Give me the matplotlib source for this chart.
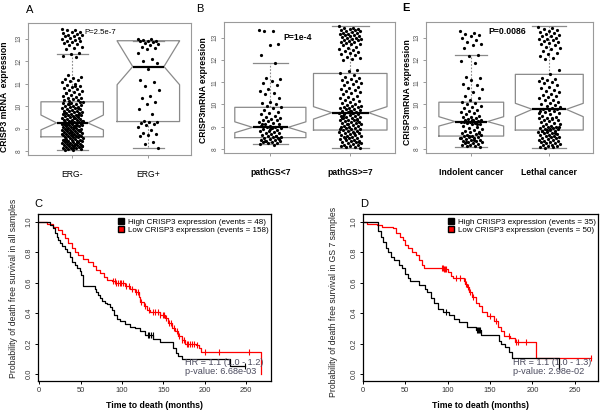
import numpy as np
import matplotlib
matplotlib.use('Agg')
import matplotlib.pyplot as plt
from matplotlib.patches import Patch

plt.rcParams['font.family'] = ['Liberation Sans', 'DejaVu Sans']

# ---------------- data: box plots ----------------
labels_A = ["ERG-", "ERG+"]
labels_B = ["pathGS<7", "pathGS>=7"]
labels_E = ["Indolent cancer", "Lethal cancer"]

erg_neg = [13.45, 13.4, 13.38, 13.32, 13.3, 13.25, 13.22, 13.18, 13.15, 13.12, 13.1, 13.05, 13.02, 12.98,
           12.95, 12.9, 12.88, 12.85, 12.8, 12.75, 12.7, 12.65, 12.6, 12.55, 12.35, 12.3, 12.25, 12.2,
           11.4, 11.3, 11.25, 11.2, 11.15, 11.1, 11.05, 11.0, 10.95, 10.9, 10.85, 10.8, 10.78, 10.72, 10.68,
           10.62, 10.58, 10.55, 10.5, 10.45, 10.42, 10.38, 10.35, 10.3, 10.28, 10.25, 10.22, 10.2, 10.9, 10.6,
           10.18, 10.15, 10.12, 10.1, 10.08, 10.05, 10.02, 10.0, 9.98, 9.95, 9.93, 9.9, 9.88, 9.85, 9.83, 9.8,
           9.78, 9.76, 9.74, 9.72, 9.7, 9.68, 9.66, 9.64, 9.62, 9.6, 9.58, 9.56, 9.54, 9.52, 9.5, 9.48, 9.46,
           9.44, 9.42, 9.4, 9.38, 9.36, 9.35, 9.33, 9.31, 9.3, 9.28, 9.27, 9.25, 9.24, 9.22, 9.21, 9.2, 9.18,
           9.17, 9.15, 9.14, 9.12, 9.1, 9.09, 9.07, 9.05, 9.04, 9.02, 9.0, 8.98, 8.97, 8.95, 8.93, 8.92, 8.9,
           8.88, 8.87, 8.85, 8.83, 8.82, 8.8, 8.78, 8.77, 8.75, 8.73, 8.72, 8.7, 8.68, 8.67, 8.65, 8.63, 8.62,
           8.6, 8.58, 8.56, 8.55, 8.53, 8.51, 8.5, 8.48, 8.46, 8.45, 8.43, 8.41, 8.4, 8.38, 8.36, 8.35, 8.33,
           8.31, 8.3, 8.28, 8.26, 8.25, 8.23, 8.21, 8.2, 8.18, 8.16, 8.15, 8.13, 8.11, 8.1, 8.08, 8.06, 8.05,
           9.6, 9.3, 9.2, 9.1, 9.0, 8.9, 8.7, 8.5, 8.4, 8.3, 8.2, 9.45, 9.15, 8.95, 8.85, 8.75, 8.65, 8.45,
           8.25, 8.12, 9.7, 9.9, 10.1, 9.35, 9.05]
erg_pos = [13.0, 12.98, 12.95, 12.92, 12.9, 12.88, 12.85, 12.8, 12.75, 12.7, 12.65, 12.6, 12.55, 12.35,
           12.1, 12.0, 11.9, 11.65, 11.15, 11.05, 10.9, 10.7, 10.45, 10.35, 10.2, 10.1, 9.85, 9.65, 9.35,
           9.3, 9.28, 9.25, 9.2, 9.15, 9.05, 8.95, 8.8, 8.75, 8.7, 8.65, 8.4, 8.3, 8.15]
path_lt7 = [13.35, 13.3, 13.28, 12.72, 12.65, 12.2, 11.85, 11.2, 11.15, 11.05, 10.95, 10.85, 10.7, 10.62,
            10.5, 10.45, 10.3, 10.12, 10.05, 10.0, 9.95, 9.9, 9.82, 9.75, 9.68, 9.6, 9.55, 9.5, 9.45, 9.4,
            9.35, 9.3, 9.28, 9.25, 9.2, 9.15, 9.12, 9.1, 9.05, 9.02, 9.0, 8.98, 8.95, 8.92, 8.9, 8.85, 8.82,
            8.8, 8.75, 8.72, 8.7, 8.66, 8.62, 8.6, 8.58, 8.55, 8.52, 8.5, 8.48, 8.45, 8.42, 8.4, 8.38, 8.35,
            8.32, 8.3, 8.28, 8.25, 8.22, 8.2, 8.35, 8.45, 8.9, 9.1, 8.6]
path_ge7 = [13.5, 13.45, 13.42, 13.4, 13.38, 13.35, 13.32, 13.3, 13.28, 13.25, 13.22, 13.2, 13.18, 13.15,
            13.12, 13.1, 13.08, 13.05, 13.02, 13.0, 12.98, 12.95, 12.92, 12.9, 12.88, 12.85, 12.82, 12.8,
            12.75, 12.72, 12.7, 12.65, 12.6, 12.55, 12.5, 12.45, 12.4, 12.35, 12.3, 12.25, 12.2, 12.15,
            12.1, 12.05, 12.0,
            11.55, 11.48, 11.4, 11.32, 11.25, 11.2, 11.15, 11.1, 11.05, 11.0, 10.95, 10.9, 10.85, 10.8,
            10.75, 10.7, 10.65, 10.6, 10.55, 10.5, 10.45, 10.4, 10.35, 10.3, 10.25, 10.2, 10.15, 10.1,
            10.05, 10.0,
            9.98, 9.95, 9.92, 9.9, 9.87, 9.85, 9.82, 9.8, 9.78, 9.75, 9.72, 9.7, 9.68, 9.65, 9.63, 9.6,
            9.58, 9.55, 9.52, 9.5, 9.48, 9.45, 9.42, 9.4, 9.38, 9.35, 9.32, 9.3, 9.28, 9.25, 9.22, 9.2,
            9.18, 9.15, 9.12, 9.1, 9.08, 9.05, 9.02, 9.0, 8.98, 8.95, 8.92, 8.9, 8.88, 8.85, 8.82, 8.8,
            8.78, 8.75, 8.72, 8.7, 8.68, 8.65, 8.62, 8.6, 8.58, 8.55, 8.52, 8.5, 8.48, 8.45, 8.42, 8.4,
            8.38, 8.35, 8.32, 8.3, 8.28, 8.25, 8.22, 8.2, 8.18, 8.15, 8.12, 8.1, 8.08, 8.05,
            9.62, 9.5, 9.3, 9.1, 8.9, 8.7, 8.5, 8.3, 9.7, 9.4]
indolent = [13.3, 13.22, 13.15, 13.1, 13.05, 12.98, 12.9, 12.8, 12.72, 12.65, 12.55, 12.2, 12.18, 11.95,
            11.85, 11.25, 11.2, 11.1, 10.9, 10.85, 10.75, 10.7, 10.55, 10.4, 10.3, 10.2, 10.1, 10.05, 10.0,
            9.95, 9.9, 9.82, 9.75, 9.7, 9.65, 9.6, 9.55, 9.5, 9.45, 9.42, 9.38, 9.35, 9.32, 9.3, 9.28,
            9.25, 9.22, 9.2, 9.18, 9.15, 9.12, 9.1, 9.05, 9.0, 8.95, 8.9, 8.85, 8.8, 8.78, 8.75, 8.7,
            8.68, 8.65, 8.62, 8.6, 8.58, 8.55, 8.52, 8.5, 8.48, 8.45, 8.42, 8.4, 8.38, 8.35, 8.32, 8.3,
            8.28, 8.25, 8.22, 8.2, 8.18, 8.15, 8.12, 8.1, 9.3, 9.2, 9.1, 8.6, 8.5, 8.4, 8.3, 8.7]
lethal = [13.48, 13.42, 13.38, 13.35, 13.3, 13.25, 13.2, 13.18, 13.12, 13.08, 13.05, 13.0, 12.95, 12.92,
          12.88, 12.85, 12.8, 12.75, 12.7, 12.65, 12.6, 12.55, 12.5, 12.4, 12.32, 12.25, 12.18, 12.1, 12.05,
          11.55, 11.35, 11.2, 11.15, 11.1, 11.05, 11.0, 10.95, 10.85, 10.8, 10.72, 10.65, 10.6, 10.55,
          10.48, 10.42, 10.38, 10.32, 10.28, 10.22, 10.18, 10.12, 10.08, 10.02,
          9.98, 9.95, 9.9, 9.85, 9.8, 9.78, 9.75, 9.72, 9.7, 9.65, 9.6, 9.55, 9.5, 9.45, 9.4, 9.38,
          9.35, 9.3, 9.28, 9.25, 9.2, 9.15, 9.12, 9.1, 9.05, 9.02, 9.0, 8.98, 8.95, 8.92, 8.9, 8.88,
          8.85, 8.82, 8.8, 8.78, 8.75, 8.72, 8.7, 8.68, 8.65, 8.62, 8.6, 8.58, 8.55, 8.52, 8.5, 8.48,
          8.45, 8.42, 8.4, 8.38, 8.35, 8.32, 8.3, 8.28, 8.25, 8.22, 8.2, 8.18, 8.15, 8.12, 8.1, 8.08,
          8.05, 9.0, 8.9, 8.8, 8.7, 8.85, 9.6, 9.4]

# box statistics: [group1, group2]
A_q1 = [8.63, 9.31]; A_med = [9.25, 11.76]; A_q3 = [10.19, 12.91]
A_lo = [8.04, 8.15]; A_hi = [12.32, 12.91]; A_cilo = [8.94, 10.95]; A_cihi = [9.60, 12.90]
B_q1 = [8.51, 8.85]; B_med = [8.97, 9.63]; B_q3 = [9.87, 11.39]
B_lo = [8.21, 8.06]; B_hi = [11.87, 13.50]; B_cilo = [8.73, 9.34]; B_cihi = [9.22, 9.90]
E_q1 = [8.58, 8.85]; E_med = [9.23, 9.78]; E_q3 = [10.10, 11.35]
E_lo = [8.10, 8.06]; E_hi = [12.22, 13.50]; E_cilo = [9.03, 9.45]; E_cihi = [9.45, 10.05]

# ---------------- data: Kaplan-Meier ----------------
C_high_t = [0, 13, 17, 19, 21, 23, 25, 28, 31, 34, 37, 40, 43, 46, 49, 51, 53, 67, 69, 71, 73, 76, 79, 82,
            85, 88, 90, 94, 98, 104, 110, 116, 122, 128, 138, 146, 162, 165, 168, 172, 231, 249]
C_high_s = [1.0, .98, .96, .93, .90, .88, .86, .84, .82, .80, .77, .74, .72, .70, .68, .65, .58, .56, .54,
            .52, .50, .48, .47, .46, .44, .42, .39, .36, .35, .33, .31, .30, .28, .26, .23, .21, .17, .14,
            .12, .10, .05, .05]
C_high_cens = [131, 133, 135, 137, 249]
C_low_t = [0, 9, 17, 23, 27, 31, 35, 39, 43, 47, 53, 59, 65, 69, 73, 78, 82, 88, 92, 104, 110, 116, 120,
           122, 126, 130, 134, 146, 152, 156, 160, 164, 168, 172, 176, 189, 193, 196, 268]
C_low_s = [1.0, .99, .97, .95, .92, .895, .86, .83, .80, .785, .76, .74, .714, .686, .664, .64, .62, .61,
           .60, .576, .56, .54, .51, .477, .45, .42, .41, .39, .367, .334, .30, .28, .253, .224, .20, .19,
           .17, .145, 0.0]
C_low_cens = [89, 91, 93, 95, 97, 99, 101, 105, 108, 112, 117, 119, 123, 128, 133, 137, 140, 143, 146,
              149, 151, 153, 157, 159, 163, 166, 169, 173, 175, 178, 180, 182, 184, 187, 190, 200, 217, 254]
D_high_t = [0, 18, 21, 24, 27, 30, 33, 37, 42, 46, 50, 53, 55, 66, 73, 76, 80, 84, 89, 95, 101, 107, 113,
            123, 133, 139, 161, 163, 168, 172, 176, 231]
D_high_s = [1.0, .94, .90, .87, .83, .80, .77, .75, .72, .70, .66, .63, .61, .585, .56, .54, .50, .465,
            .43, .41, .39, .36, .34, .31, .29, .257, .22, .20, .18, .147, .107, .03]
D_high_cens = [98, 135, 136, 137, 138]
D_low_t = [0, 5, 17, 23, 35, 39, 44, 47, 50, 53, 58, 62, 66, 70, 72, 96, 100, 104, 106, 119, 121, 123,
           125, 129, 133, 137, 141, 147, 155, 159, 163, 167, 174, 180, 204, 269]
D_low_s = [1.0, .99, .98, .97, .96, .93, .90, .88, .85, .83, .80, .78, .75, .72, .70, .69, .67, .645,
           .63, .61, .59, .57, .54, .51, .47, .445, .41, .38, .35, .31, .28, .25, .237, .208, .105, .105]
D_low_cens = [93, 95, 96, 97, 98, 110, 114, 120, 122, 124, 126, 130, 150, 157, 172, 181, 183, 193, 269]

C_legend = ["High CRISP3 expression (events = 48)", "Low CRISP3 expression (events = 158)"]
D_legend = ["High CRISP3 expression (events = 35)", "Low CRISP3 expression (events = 50)"]
C_stats = ["HR = 1.1 (1.0 - 1.2)", "p-value: 6.68e-03"]
D_stats = ["HR = 1.1 (1.0 - 1.3)", "p-value: 2.98e-02"]

# ---------------- figure ----------------
W, H = 600, 411
fig = plt.figure(figsize=(6, 4.11), dpi=100)


def ax_px(l, t, r, b):
    return fig.add_axes([l / W, 1 - b / H, (r - l) / W, (b - t) / H])


def ftext(x, y, s, **kw):
    fig.text(x / W, 1 - y / H, s, **kw)


GRAY = '#8a8a8a'


def boxpanel(ax, groups, q1, med, q3, lo, hi, cilo, cihi, labels, bold, widths):
    stats = []
    for i in range(2):
        stats.append(dict(q1=q1[i], med=med[i], q3=q3[i], whislo=lo[i], whishi=hi[i],
                          cilo=cilo[i], cihi=cihi[i], fliers=[]))
    ax.bxp(stats, positions=[1, 2], widths=widths, shownotches=True, showfliers=False,
           boxprops=dict(color=GRAY, lw=0.9),
           medianprops=dict(color='black', lw=1.6),
           whiskerprops=dict(color=GRAY, lw=0.8, linestyle=(0, (1.5, 1.5))),
           capprops=dict(color=GRAY, lw=0.9), manage_ticks=False)
    spread = 0.14
    for i, vals in enumerate(groups):
        v = np.asarray(vals)
        off = ((np.arange(len(v)) * 0.6180339887) % 1 - 0.5) * 2 * spread
        ax.plot(i + 1 + off, v, 'o', color='black', ms=2.3, mew=0, zorder=5)
    ax.set_xlim(0.42, 2.56)
    ax.set_ylim(7.82, 13.7)
    ax.set_yticks([8, 9, 10, 11, 12, 13])
    ax.set_yticklabels(['8', '9', '10', '11', '12', '13'], rotation=90, va='center')
    ax.set_xticks([1, 2])
    ax.set_xticklabels(labels, fontsize=6.2, fontweight='bold' if bold else 'normal')
    ax.tick_params(axis='y', labelsize=4.8, colors=GRAY, labelcolor='#555555', length=2.5, width=0.6, pad=1.5)
    ax.tick_params(axis='x', colors=GRAY, labelcolor='black', length=2.5, width=0.6, pad=8)
    for s in ax.spines.values():
        s.set_color('#9a9a9a')
        s.set_linewidth(0.8)


axA = ax_px(28, 23, 191, 155)
boxpanel(axA, [erg_neg, erg_pos], A_q1, A_med, A_q3, A_lo, A_hi, A_cilo, A_cihi, labels_A, False, [0.82, 0.82])
axB = ax_px(224, 22, 395, 153)
boxpanel(axB, [path_lt7, path_ge7], B_q1, B_med, B_q3, B_lo, B_hi, B_cilo, B_cihi, labels_B, True, [0.89, 0.92])
axE = ax_px(426, 22, 593, 153)
boxpanel(axE, [indolent, lethal], E_q1, E_med, E_q3, E_lo, E_hi, E_cilo, E_cihi, labels_E, True, [0.83, 0.87])

ftext(5, 97, "CRISP3 mRNA  expression", rotation=90, ha='center', va='center', fontsize=6.2, fontweight='bold')
ftext(203, 90, "CRISP3mRNA expression", rotation=90, ha='center', va='center', fontsize=6.2, fontweight='bold')
ftext(407, 92, "CRISP3mRNA expression", rotation=90, ha='center', va='center', fontsize=6.2, fontweight='bold')
ftext(100, 32, "P=2.5e-7", ha='center', va='center', fontsize=5.6)
ftext(298, 38, "P=1e-4", ha='center', va='center', fontsize=6.2, fontweight='bold')
ftext(507, 32, "P=0.0086", ha='center', va='center', fontsize=6.2, fontweight='bold')

ftext(30, 10, "A", ha='center', va='center', fontsize=8)
ftext(200, 9, "B", ha='center', va='center', fontsize=8)
ftext(406, 8, "E", ha='center', va='center', fontsize=8, fontweight='bold')
ftext(38, 204, "C", ha='center', va='center', fontsize=8)
ftext(364, 204, "D", ha='center', va='center', fontsize=8)


def cens_y(t, s, c):
    t = np.asarray(t); s = np.asarray(s)
    idx = np.searchsorted(t, c, side='right') - 1
    return s[idx]


def kmpanel(ax, ht, hs, hc, lt, ls, lc, legend, st, xlim, stx):
    ax.step(lt, ls, where='post', color='red', lw=0.9)
    ax.step(ht, hs, where='post', color='black', lw=0.9)
    ax.plot(lc, cens_y(lt, ls, lc), '|', color='red', ms=4, mew=0.8)
    ax.plot(hc, cens_y(ht, hs, hc), '|', color='black', ms=4, mew=0.8)
    ax.set_xlim(*xlim)
    ax.set_ylim(-0.046, 1.053)
    ax.set_xticks([0, 50, 100, 150, 200, 250])
    ax.set_yticks([0, 0.2, 0.4, 0.6, 0.8, 1.0])
    ax.set_yticklabels(['0.0', '0.2', '0.4', '0.6', '0.8', '1.0'], rotation=90, va='center')
    ax.tick_params(labelsize=5.4, length=2.5, width=0.7, pad=1.5, labelcolor='#333333')
    for s in ax.spines.values():
        s.set_linewidth(0.9)
    handles = [Patch(facecolor='black', edgecolor='black'), Patch(facecolor='red', edgecolor='black')]
    ax.legend(handles, legend, loc='upper right', bbox_to_anchor=(1.0, 0.99), frameon=False,
              fontsize=5.8, handlelength=0.7, handleheight=0.7, handletextpad=0.5,
              labelspacing=0.05, borderaxespad=0.2, borderpad=0.1)
    ftext(stx, 362, st[0], ha='left', va='center', fontsize=6.6, color='#4b4b5e')
    ftext(stx, 371, st[1], ha='left', va='center', fontsize=6.6, color='#4b4b5e')


axC = ax_px(38, 214, 271, 381)
kmpanel(axC, C_high_t, C_high_s, C_high_cens, C_low_t, C_low_s, C_low_cens, C_legend, C_stats, (-1.5, 280), 185)
axD = ax_px(363, 214, 598, 381)
kmpanel(axD, D_high_t, D_high_s, D_high_cens, D_low_t, D_low_s, D_low_cens, D_legend, D_stats, (0, 277.5), 513)

ftext(154, 405, "Time to death (months)", ha='center', va='center', fontsize=6.3, fontweight='bold')
ftext(480, 405, "Time to death (months)", ha='center', va='center', fontsize=6.3, fontweight='bold')
ftext(13.5, 378, "Probability of death free survival in all samples", rotation=90,
      ha='center', va='bottom', fontsize=6.2, color='#222222')
ftext(333, 397, "Probability of death free survival in GS 7 samples", rotation=90,
      ha='center', va='bottom', fontsize=6.2, color='#222222')

fig.savefig('out.png', dpi=100)
